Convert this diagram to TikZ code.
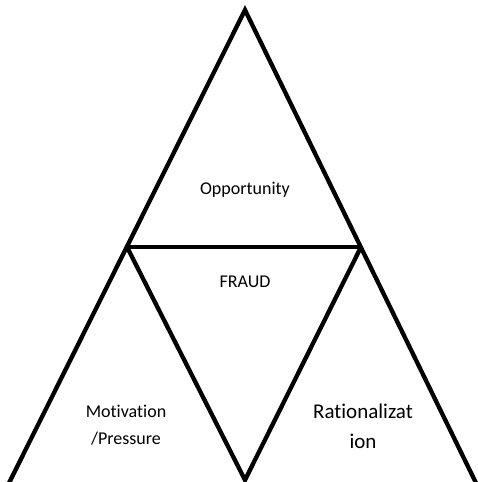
\documentclass[tikz,border=0pt]{standalone}
\usepackage{fontspec}
\setmainfont{Carlito}[Ligatures={NoCommon}]
\begin{document}
\begin{tikzpicture}[x=1pt,y=-1pt,line width=4.3pt,
  label/.style={align=center,inner sep=0pt,font=\fontsize{18}{27}\selectfont}]
\useasboundingbox (0,0) rectangle (477,482);

% corners
    \coordinate (top) at (245,10);
    \coordinate (left) at (8,485);
    \coordinate (right) at (477,485);
    \coordinate (midleft) at (127,247);
    \coordinate (midright) at (361,247);
    \coordinate (bottom) at (245,480);

	 % triangles
    \draw (left) -- (top) -- (right);
    \draw (midleft) -- (midright);
    \draw (midleft) -- (bottom) -- (midright);

	 % texts
	 \node[label] (opp) at (245,190) {Opportunity};
	 \node[label] (fraud) at (245,282) {FRAUD};
	 \node[label] (mot) at (126,425) {Motivation\\/Pressure};
	 \node[label,font=\fontsize{21}{30}\selectfont] (rat) at (363,426) {Rationalizat\\ion};
\end{tikzpicture}
\end{document}
